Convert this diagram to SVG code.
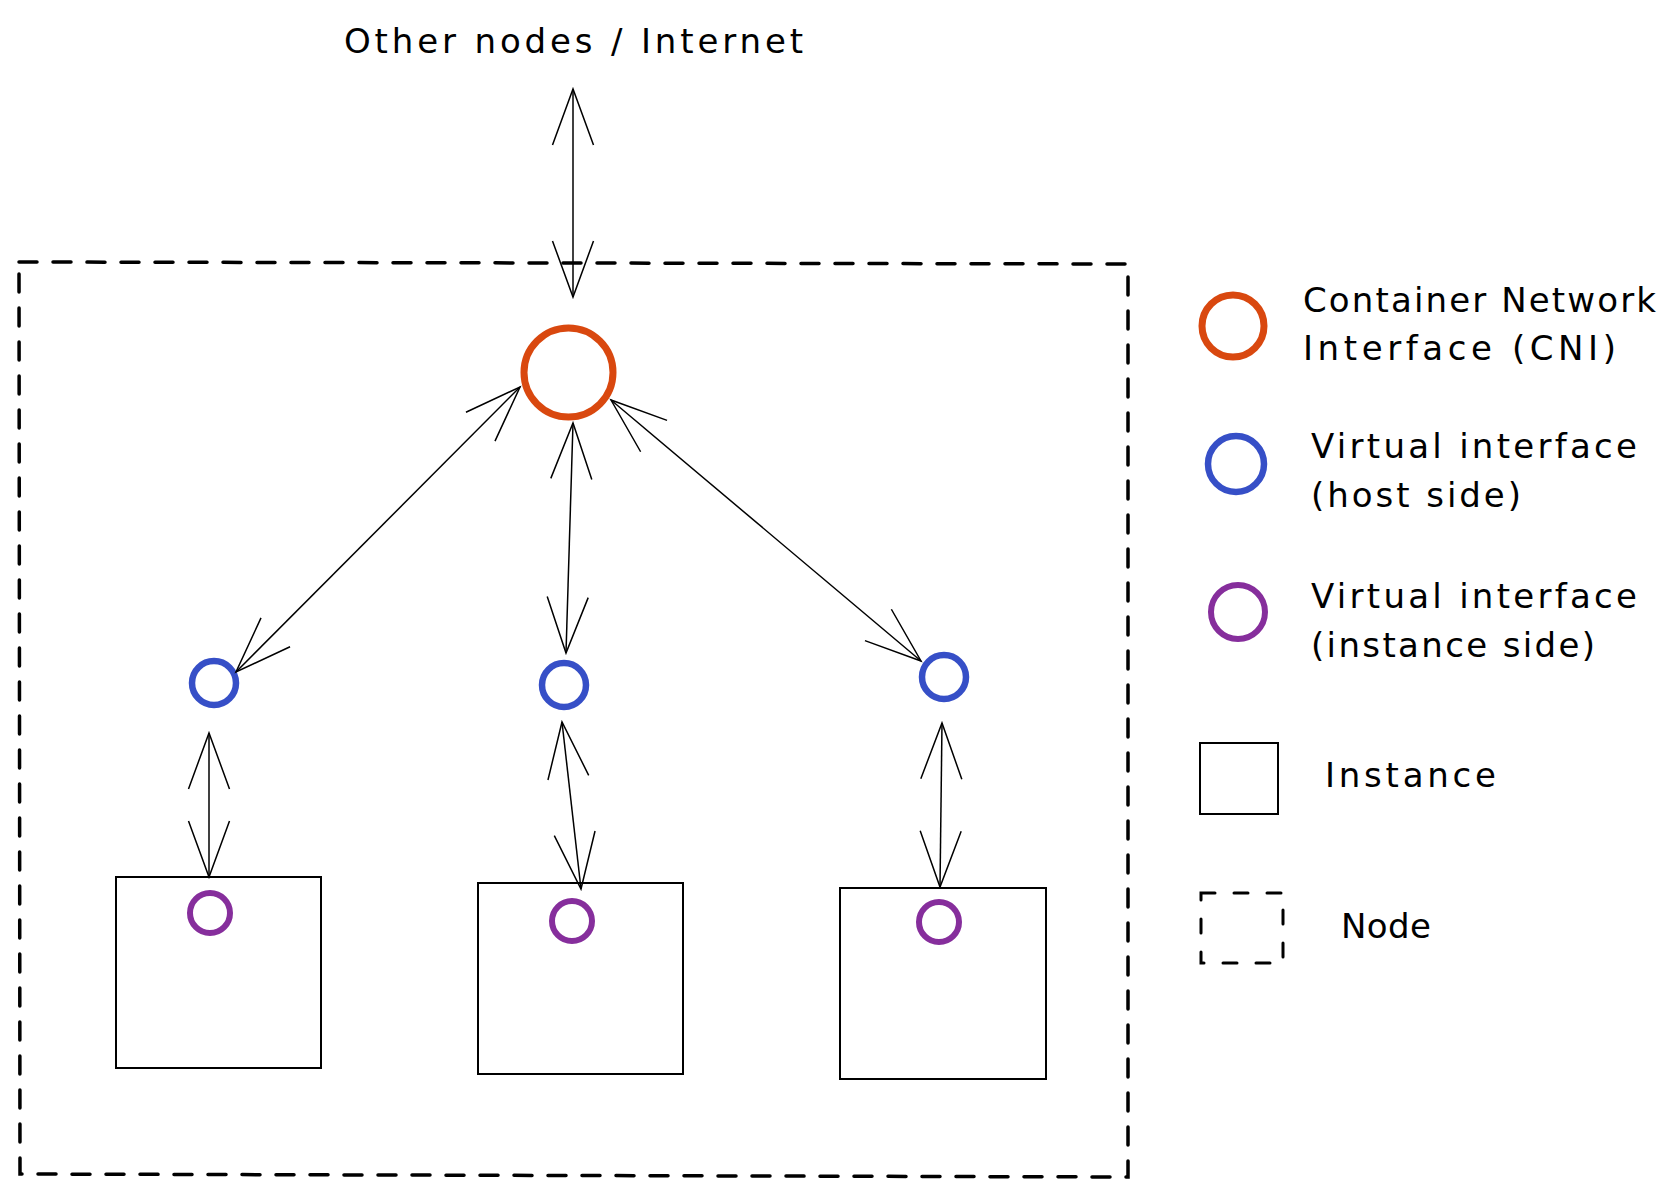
<svg xmlns="http://www.w3.org/2000/svg" width="1677" height="1195" viewBox="0 0 1677 1195">
<style>
.lbl{font-family:"DejaVu Sans","Liberation Sans",sans-serif;font-size:34px;fill:#000}
.cni{fill:none;stroke:#d9480f;stroke-width:7}
.host{fill:none;stroke:#364fc7;stroke-width:6.5}
.inst{fill:none;stroke:#862e9c;stroke-width:6}
.box{fill:none;stroke:#000;stroke-width:2}
.dash{fill:none;stroke:#000;stroke-width:3.5;stroke-dasharray:18 16;stroke-linecap:round}
.conn{fill:none;stroke:#000;stroke-width:1.5}
</style>
<defs>
<marker id="ah" markerUnits="userSpaceOnUse" orient="auto-start-reverse" refX="0" refY="0" markerWidth="80" markerHeight="80" overflow="visible">
<path d="M-56,-20.5 L0,0 L-56,20.5" fill="none" stroke="#000" stroke-width="1.5" stroke-linejoin="miter"/>
</marker>
</defs>
<rect width="1677" height="1195" fill="#fff"/>
<g id="node-boundary">
<path class="dash" d="M19,262 L1128,264 L1128,1177 L20,1174 Z"/>
</g>
<g id="title">
<text class="lbl" x="344" y="53" textLength="459" lengthAdjust="spacing">Other nodes / Internet</text>
</g>
<g id="cni">
<circle class="cni" cx="568.5" cy="372.5" r="44.5"/>
</g>
<g id="host1"><circle class="host" cx="214" cy="683" r="22"/></g>
<g id="host2"><circle class="host" cx="564" cy="685" r="22"/></g>
<g id="host3"><circle class="host" cx="944" cy="677" r="22"/></g>
<g id="instance1">
<rect class="box" x="116" y="877" width="205" height="191"/>
<circle class="inst" cx="210" cy="913" r="20"/>
</g>
<g id="instance2">
<rect class="box" x="478" y="883" width="205" height="191"/>
<circle class="inst" cx="572" cy="921" r="20"/>
</g>
<g id="instance3">
<rect class="box" x="840" y="888" width="206" height="191"/>
<circle class="inst" cx="939" cy="922" r="20"/>
</g>
<g id="connectors">
<line class="conn" x1="573" y1="89" x2="573" y2="297" marker-start="url(#ah)" marker-end="url(#ah)"/>
<line class="conn" x1="520" y1="387" x2="236" y2="672" marker-start="url(#ah)" marker-end="url(#ah)"/>
<line class="conn" x1="573" y1="423" x2="566" y2="653" marker-start="url(#ah)" marker-end="url(#ah)"/>
<line class="conn" x1="611" y1="400" x2="921" y2="661" marker-start="url(#ah)" marker-end="url(#ah)"/>
<line class="conn" x1="209" y1="733" x2="209" y2="877" marker-start="url(#ah)" marker-end="url(#ah)"/>
<line class="conn" x1="562" y1="722" x2="581" y2="889" marker-start="url(#ah)" marker-end="url(#ah)"/>
<line class="conn" x1="942" y1="723" x2="940" y2="887" marker-start="url(#ah)" marker-end="url(#ah)"/>
</g>
<g id="legend-cni">
<circle class="cni" cx="1233" cy="326" r="31" stroke-width="6"/>
<text class="lbl" x="1303" y="312" textLength="353" lengthAdjust="spacing">Container Network</text>
<text class="lbl" x="1303" y="360" textLength="313" lengthAdjust="spacing">Interface (CNI)</text>
</g>
<g id="legend-host">
<circle class="host" cx="1236" cy="464" r="28"/>
<text class="lbl" x="1311" y="458" textLength="326" lengthAdjust="spacing">Virtual interface</text>
<text class="lbl" x="1311" y="507" textLength="210" lengthAdjust="spacing">(host side)</text>
</g>
<g id="legend-inst">
<circle class="inst" cx="1238" cy="612" r="27"/>
<text class="lbl" x="1311" y="608" textLength="326" lengthAdjust="spacing">Virtual interface</text>
<text class="lbl" x="1311" y="657" textLength="284" lengthAdjust="spacing">(instance side)</text>
</g>
<g id="legend-instance">
<rect class="box" x="1200" y="743" width="78" height="71"/>
<text class="lbl" x="1325" y="787" textLength="171" lengthAdjust="spacing">Instance</text>
</g>
<g id="legend-node">
<rect class="dash" x="1201" y="893" width="82" height="70" style="stroke-dasharray:14 19;stroke-width:3"/>
<text class="lbl" x="1341" y="938" textLength="90" lengthAdjust="spacing">Node</text>
</g>
</svg>
